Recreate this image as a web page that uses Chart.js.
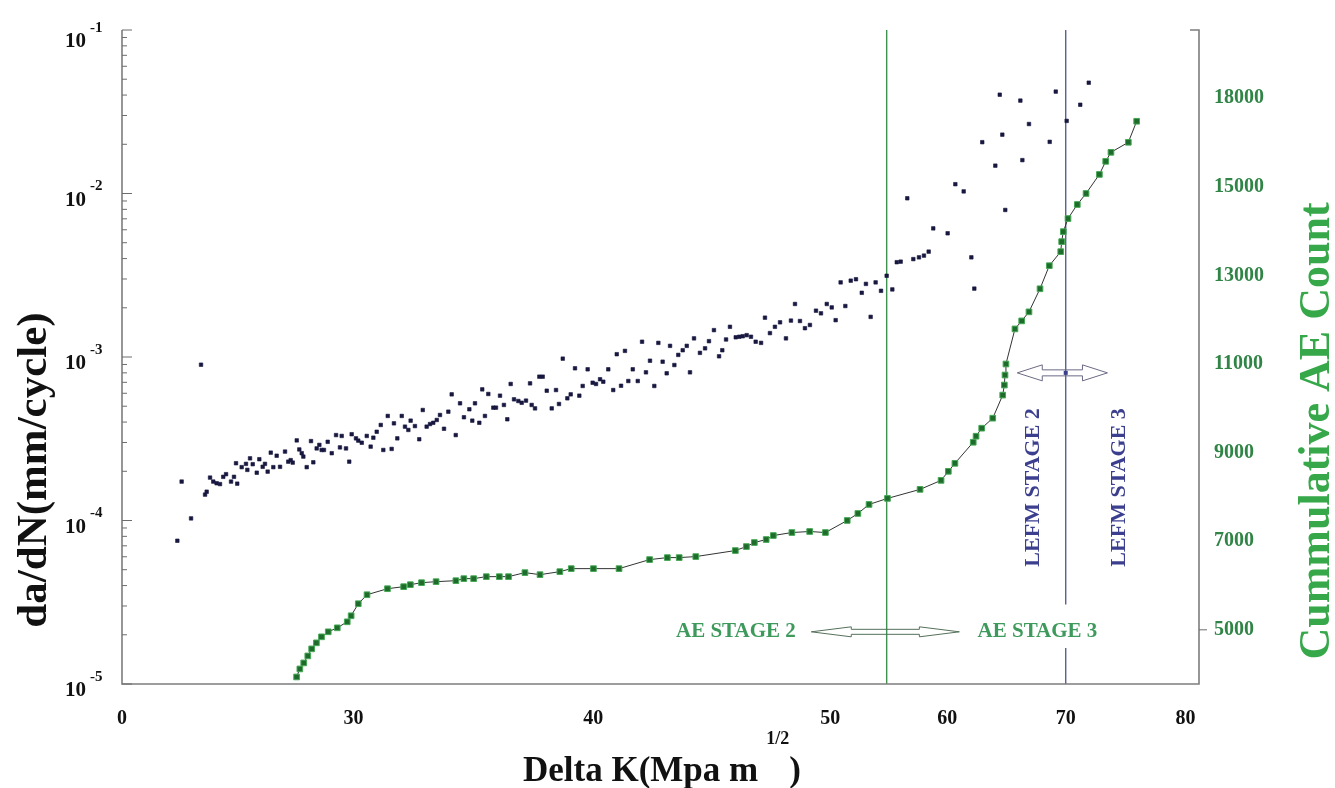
<!DOCTYPE html>
<html>
<head>
<meta charset="utf-8">
<title>da/dN and cumulative AE count vs Delta K</title>
<script src="https://cdn.jsdelivr.net/npm/chart.js@4.4.1/dist/chart.umd.min.js"></script>
<style>
  html, body { margin: 0; padding: 0; background: #fff; }
</style>
</head>
<body>
<canvas id="chart" width="1335" height="788"></canvas>
<script>
// crack growth rate da/dN (mm/cycle) against Delta K
const crackDeltaK = [
  4.11, 4.43, 5.13, 5.87, 6.17, 6.29, 6.54, 6.78, 7.03, 7.28, 7.52, 7.73, 8.10, 8.32, 8.47, 8.56,
  8.89, 9.21, 9.31, 9.51, 9.71, 10.01, 10.20, 10.45, 10.62, 10.82, 11.05, 11.24, 11.49, 11.74,
  12.11, 12.35, 12.53, 12.68, 12.98, 13.17, 13.35, 13.47, 13.72, 14.04, 14.21, 14.46, 14.66,
  14.83, 15.00, 15.28, 15.58, 15.90, 16.19, 16.32, 16.64, 16.88, 17.06, 17.38, 17.55, 17.81,
  18.18, 18.47, 18.67, 18.92, 19.22, 19.41, 19.74, 20.03, 20.20, 20.45, 20.78, 21.02, 21.27,
  21.44, 21.76, 22.08, 22.34, 22.63, 22.88, 23.12, 23.38, 23.62, 23.92, 24.24, 24.49, 24.79,
  25.11, 25.40, 25.80, 26.02, 26.22, 26.54, 26.76, 26.96, 27.21,
  27.58, 27.78, 28.08, 28.37, 28.62, 28.87, 29.12, 29.44, 29.69, 30.01, 30.31, 30.43, 30.68,
  31.00, 31.25, 31.55, 31.92, 32.24, 32.46, 32.74, 33.08, 33.33, 33.65, 33.97, 34.22, 34.59,
  34.96, 35.21, 35.51, 35.75, 36.12, 36.49, 36.75, 37.07, 37.36, 37.61, 37.94, 38.31, 38.63,
  38.92, 39.22, 39.54, 39.84, 40.16, 40.46, 40.71, 41.03, 41.32, 41.65, 41.95, 42.19, 42.49,
  42.93, 43.31, 43.60, 43.97, 44.35, 44.59, 44.87, 45.16, 45.59, 45.85, 46.11, 46.40, 46.72,
  47.07, 47.47, 47.76, 48.13, 48.50, 48.88, 49.32, 49.69, 49.99, 50.36, 50.73, 51.10, 51.55,
  51.92, 52.35,
  52.72, 53.01, 53.38, 53.73, 54.13, 54.52, 54.95, 55.26, 55.61, 55.98, 56.38, 56.80, 57.22,
  57.55, 57.84, 58.33, 58.78, 59.20, 59.57, 59.92, 60.26, 61.33, 61.90, 62.52, 63.09, 63.31,
  63.90, 64.87, 65.20, 65.39, 65.61, 66.73, 66.88, 67.37, 68.91, 69.36, 70.17, 71.18, 71.81
];
const crackRate = [
  7.52e-5, 1.73e-4, 1.03e-4, 8.97e-4, 1.44e-4, 1.50e-4, 1.83e-4, 1.73e-4, 1.69e-4, 1.67e-4,
  1.85e-4, 1.92e-4, 1.73e-4, 1.85e-4, 2.24e-4, 1.68e-4, 2.12e-4, 2.22e-4, 2.04e-4, 2.40e-4,
  2.21e-4, 1.96e-4, 2.37e-4, 2.13e-4, 2.22e-4, 1.99e-4, 2.60e-4, 2.12e-4, 2.49e-4, 2.13e-4,
  2.64e-4, 2.29e-4, 2.34e-4, 2.26e-4, 3.09e-4, 2.72e-4, 2.58e-4, 2.46e-4, 2.12e-4, 3.06e-4,
  2.27e-4, 2.76e-4, 2.90e-4, 2.70e-4, 2.70e-4, 3.03e-4, 2.58e-4, 3.33e-4, 2.80e-4, 3.29e-4,
  2.76e-4, 2.29e-4, 3.37e-4, 3.18e-4, 3.08e-4, 2.99e-4, 3.29e-4, 2.83e-4, 3.21e-4, 3.49e-4,
  3.84e-4, 2.70e-4, 4.36e-4, 2.74e-4, 3.93e-4, 3.18e-4, 4.36e-4, 3.75e-4, 3.58e-4, 4.08e-4,
  3.78e-4, 3.14e-4, 4.74e-4, 3.75e-4, 3.89e-4, 3.96e-4, 4.12e-4, 4.42e-4, 3.64e-4, 4.63e-4,
  5.91e-4, 3.33e-4, 5.21e-4, 4.28e-4, 4.79e-4, 4.08e-4, 5.21e-4, 3.96e-4, 6.34e-4, 4.36e-4,
  5.94e-4,
  4.90e-4, 4.90e-4, 5.80e-4, 5.09e-4, 4.16e-4, 6.84e-4, 5.51e-4, 5.38e-4, 5.25e-4, 5.41e-4,
  6.90e-4, 5.09e-4, 4.85e-4, 7.58e-4, 7.58e-4, 6.22e-4, 4.85e-4, 6.28e-4, 5.16e-4, 9.77e-4,
  5.59e-4, 5.91e-4, 8.53e-4, 5.80e-4, 6.65e-4, 8.41e-4, 6.96e-4, 6.84e-4, 7.31e-4, 7.06e-4,
  8.41e-4, 6.28e-4, 1.04e-3, 6.67e-4, 1.09e-3, 7.13e-4, 8.41e-4, 7.13e-4, 1.24e-3, 8.06e-4,
  9.49e-4, 6.65e-4, 1.22e-3, 9.36e-4, 7.95e-4, 1.17e-3, 8.93e-4, 1.03e-3, 1.10e-3, 1.17e-3,
  8.06e-4, 1.30e-3, 1.06e-3, 1.13e-3, 1.25e-3, 1.46e-3, 1.01e-3, 1.10e-3, 1.28e-3, 1.53e-3,
  1.32e-3, 1.33e-3, 1.34e-3, 1.36e-3, 1.33e-3, 1.24e-3, 1.22e-3, 1.74e-3, 1.40e-3, 1.53e-3,
  1.63e-3, 1.30e-3, 1.67e-3, 2.11e-3, 1.66e-3, 1.50e-3, 1.57e-3, 1.92e-3, 1.85e-3, 2.11e-3,
  2.01e-3, 1.68e-3, 2.86e-3, 2.05e-3, 2.93e-3, 2.99e-3, 2.47e-3, 2.80e-3, 1.76e-3, 2.86e-3,
  2.54e-3, 3.14e-3, 2.59e-3, 3.80e-3, 3.83e-3, 9.35e-3, 3.97e-3, 4.07e-3, 4.17e-3, 4.41e-3,
  6.12e-3, 5.71e-3, 1.14e-2, 1.03e-2, 4.07e-3, 2.62e-3, 2.06e-2, 1.48e-2, 4.02e-2, 2.29e-2,
  7.93e-3, 3.70e-2, 1.60e-2, 2.66e-2, 2.07e-2, 4.20e-2, 2.78e-2, 3.49e-2, 4.76e-2
];

// cumulative acoustic emission count against Delta K
const aeDeltaK = [
  12.97, 13.21, 13.50, 13.80, 14.09, 14.44, 14.82, 15.32, 15.99, 16.73, 17.02, 17.55, 18.20,
  19.72, 20.92, 21.42, 22.25, 23.33, 24.80, 25.39, 26.12, 27.06, 28.03, 28.71, 29.93, 31.05,
  32.52, 33.37, 35.02, 36.92, 39.19, 40.51, 41.39, 42.62, 45.56, 46.38, 46.97, 47.85, 48.38,
  49.76, 51.08, 52.25, 53.87, 54.66, 55.49, 56.86, 59.28, 60.84, 61.38, 61.87, 63.23, 63.44,
  63.86, 64.68, 65.42, 65.54, 65.59, 65.66, 66.33, 66.83, 67.37, 68.19, 68.88, 69.73, 69.80,
  69.92, 70.27, 70.96, 71.61, 72.60, 73.07, 73.46, 74.75, 75.37
];
const aeCount = [
  3936, 4117, 4253, 4411, 4570, 4706, 4842, 4955, 5045, 5181, 5317, 5589, 5792,
  5928, 5974, 6019, 6064, 6087, 6109, 6155, 6155, 6200, 6200, 6200, 6291, 6245,
  6313, 6381, 6381, 6381, 6585, 6630, 6630, 6653, 6789, 6879, 6970, 7038, 7128,
  7196, 7219, 7196, 7468, 7626, 7830, 7966, 8170, 8373, 8577, 8758, 9234, 9370,
  9551, 9777, 10298, 10525, 10751, 11000, 11792, 11973, 12177, 12698, 13219, 13536, 13762,
  13988, 14283, 14600, 14849, 15279, 15574, 15778, 16004, 16479
];

// axis ticks
const xTickValues = [0, 17.2, 35, 52.6, 61.3, 70.1, 79];
const xTickLabels = ['0', '30', '40', '50', '60', '70', '80'];
const rateDecades = [-5, -4, -3, -2, -1];
const countTickValues = [5000, 7000, 9000, 11000, 13000, 15000, 17000];
const countTickLabels = ['5000', '7000', '9000', '11000', '13000', '15000', '18000'];

// stage boundaries
const aeStageBoundary = 56.8;
const lefmStageBoundary = 70.1;

const SERIF = '"Liberation Serif", "DejaVu Serif", serif';

function toPoints(xs, ys) {
  return xs.map((x, i) => ({ x: x, y: ys[i] }));
}

function rotatedText(ctx, text, x, y, font, color) {
  ctx.save();
  ctx.translate(x, y);
  ctx.rotate(-Math.PI / 2);
  ctx.font = font;
  ctx.fillStyle = color;
  ctx.textAlign = 'center';
  ctx.textBaseline = 'middle';
  ctx.fillText(text, 0, 0);
  ctx.restore();
}

// outlined double-headed arrow
function hollowArrow(ctx, x1, x2, y, head, wing, shaft, color) {
  ctx.save();
  ctx.beginPath();
  ctx.moveTo(x1, y);
  ctx.lineTo(x1 + head, y - wing);
  ctx.lineTo(x1 + head, y - shaft);
  ctx.lineTo(x2 - head, y - shaft);
  ctx.lineTo(x2 - head, y - wing);
  ctx.lineTo(x2, y);
  ctx.lineTo(x2 - head, y + wing);
  ctx.lineTo(x2 - head, y + shaft);
  ctx.lineTo(x1 + head, y + shaft);
  ctx.lineTo(x1 + head, y + wing);
  ctx.closePath();
  ctx.strokeStyle = color;
  ctx.lineWidth = 1;
  ctx.stroke();
  ctx.restore();
}

const stageLines = {
  id: 'stageLines',
  beforeDatasetsDraw(chart) {
    const { ctx, chartArea, scales } = chart;
    const xg = scales.x.getPixelForValue(aeStageBoundary);
    const xb = scales.x.getPixelForValue(lefmStageBoundary);
    const gapTop = scales.count.getPixelForValue(5570);
    const gapBottom = scales.count.getPixelForValue(4590);
    ctx.save();
    ctx.lineWidth = 1.4;
    ctx.strokeStyle = '#3f9150';
    ctx.beginPath();
    ctx.moveTo(xg, chartArea.top);
    ctx.lineTo(xg, chartArea.bottom);
    ctx.stroke();
    ctx.strokeStyle = '#5b5f93';
    ctx.beginPath();
    ctx.moveTo(xb, chartArea.top);
    ctx.lineTo(xb, gapTop);
    ctx.moveTo(xb, gapBottom);
    ctx.lineTo(xb, chartArea.bottom);
    ctx.stroke();
    ctx.restore();
  }
};

const axesAndNotes = {
  id: 'axesAndNotes',
  afterDatasetsDraw(chart) {
    const { ctx, chartArea, scales } = chart;
    const { left, right, top, bottom } = chartArea;
    ctx.save();

    // frame
    ctx.strokeStyle = '#7d7d7d';
    ctx.lineWidth = 1.6;
    ctx.beginPath();
    ctx.moveTo(left, top);
    ctx.lineTo(left, bottom);
    ctx.lineTo(right, bottom);
    ctx.lineTo(right, top);
    ctx.lineTo(right - 9, top);
    ctx.stroke();

    // log ticks on the left axis, drawn inwards
    ctx.lineWidth = 1;
    ctx.strokeStyle = '#6d6d6d';
    ctx.beginPath();
    rateDecades.forEach((e, i) => {
      const y = scales.y.getPixelForValue(Math.pow(10, e));
      ctx.moveTo(left, y);
      ctx.lineTo(left + 10, y);
      if (i < rateDecades.length - 1) {
        for (let m = 2; m <= 9; m++) {
          const ym = scales.y.getPixelForValue(m * Math.pow(10, e));
          ctx.moveTo(left, ym);
          ctx.lineTo(left + 5, ym);
        }
      }
    });
    // one outward tick on the right axis
    const y5k = scales.count.getPixelForValue(countTickValues[0]);
    ctx.moveTo(right, y5k);
    ctx.lineTo(right + 8, y5k);
    ctx.stroke();

    // left tick labels: 10 with exponent
    ctx.fillStyle = '#111';
    ctx.textBaseline = 'middle';
    rateDecades.forEach(e => {
      const y = scales.y.getPixelForValue(Math.pow(10, e));
      const drop = e === -1 ? 12 : 7;
      ctx.font = 'bold 21px ' + SERIF;
      ctx.textAlign = 'right';
      ctx.fillText('10', left - 36, y + drop);
      ctx.font = 'bold 15px ' + SERIF;
      ctx.textAlign = 'left';
      ctx.fillText(String(e), left - 32, y + drop - 14);
    });

    // bottom tick labels
    ctx.font = 'bold 20px ' + SERIF;
    ctx.textAlign = 'center';
    xTickValues.forEach((v, i) => {
      ctx.fillText(xTickLabels[i], scales.x.getPixelForValue(v), bottom + 35);
    });

    // right tick labels
    ctx.fillStyle = '#2f8446';
    ctx.textAlign = 'left';
    countTickValues.forEach((v, i) => {
      ctx.fillText(countTickLabels[i], right + 15, scales.count.getPixelForValue(v));
    });

    // axis titles
    ctx.fillStyle = '#111';
    ctx.font = 'bold 35px ' + SERIF;
    ctx.textAlign = 'left';
    ctx.textBaseline = 'alphabetic';
    const xt = 'Delta K(Mpa m';
    const xtLeft = 523;
    ctx.fillText(xt, xtLeft, 781);
    const xtEnd = xtLeft + ctx.measureText(xt).width;
    ctx.fillText(')', xtEnd + 31, 781);
    ctx.font = 'bold 18px ' + SERIF;
    ctx.fillText('1/2', xtEnd + 8, 744);

    rotatedText(ctx, 'da/dN(mm/cycle)', 35, 470, 'bold 43px ' + SERIF, '#111');
    rotatedText(ctx, 'Cummulative AE Count', 1318, 431, 'bold 44px ' + SERIF, '#37a84a');

    // AE stage annotation
    const yAe = scales.count.getPixelForValue(5000);
    ctx.font = 'bold 21px ' + SERIF;
    ctx.fillStyle = '#3e9a5c';
    ctx.textAlign = 'center';
    ctx.textBaseline = 'middle';
    ctx.fillText('AE STAGE 2', scales.x.getPixelForValue(45.6), yAe + 2);
    ctx.fillText('AE STAGE 3', scales.x.getPixelForValue(68.0), yAe + 2);
    hollowArrow(ctx, scales.x.getPixelForValue(51.2), scales.x.getPixelForValue(62.2),
      yAe + 2, 40, 5, 2.5, '#55705a');

    // LEFM stage annotation
    const yLefm = scales.count.getPixelForValue(10800);
    hollowArrow(ctx, scales.x.getPixelForValue(66.5), scales.x.getPixelForValue(73.2),
      yLefm, 25, 8, 3, '#6a6a85');
    ctx.fillStyle = '#3a3f8c';
    ctx.fillRect(scales.x.getPixelForValue(lefmStageBoundary) - 2, yLefm - 2, 4, 4);
    const yText = scales.count.getPixelForValue(8215);
    rotatedText(ctx, 'LEFM STAGE 2', scales.x.getPixelForValue(67.7), yText,
      'bold 22px ' + SERIF, '#3b3f8e');
    rotatedText(ctx, 'LEFM STAGE 3', scales.x.getPixelForValue(74.1), yText,
      'bold 22px ' + SERIF, '#3b3f8e');

    ctx.restore();
  }
};

new Chart(document.getElementById('chart'), {
  type: 'scatter',
  data: {
    datasets: [
      {
        label: 'da/dN',
        data: toPoints(crackDeltaK, crackRate),
        yAxisID: 'y',
        pointStyle: 'rect',
        pointRadius: 2.5,
        pointBorderWidth: 0.6,
        backgroundColor: '#17173f',
        borderColor: '#17173f',
        showLine: false
      },
      {
        label: 'Cumulative AE count',
        data: toPoints(aeDeltaK, aeCount),
        yAxisID: 'count',
        showLine: true,
        borderColor: '#333',
        borderWidth: 1,
        pointStyle: 'rect',
        pointRadius: 4,
        pointBorderWidth: 1,
        pointBackgroundColor: '#1f6b2c',
        pointBorderColor: '#46a955'
      }
    ]
  },
  options: {
    responsive: false,
    animation: false,
    devicePixelRatio: 1,
    events: [],
    layout: { padding: { left: 122, right: 136, top: 30, bottom: 104 } },
    plugins: { legend: { display: false }, tooltip: { enabled: false } },
    scales: {
      x: { type: 'linear', min: 0, max: 80, display: false },
      y: { type: 'logarithmic', min: 1e-5, max: 1e-1, display: false },
      count: { type: 'linear', position: 'right', min: 3777, max: 18539, display: false }
    }
  },
  plugins: [stageLines, axesAndNotes]
});
</script>
</body>
</html>
